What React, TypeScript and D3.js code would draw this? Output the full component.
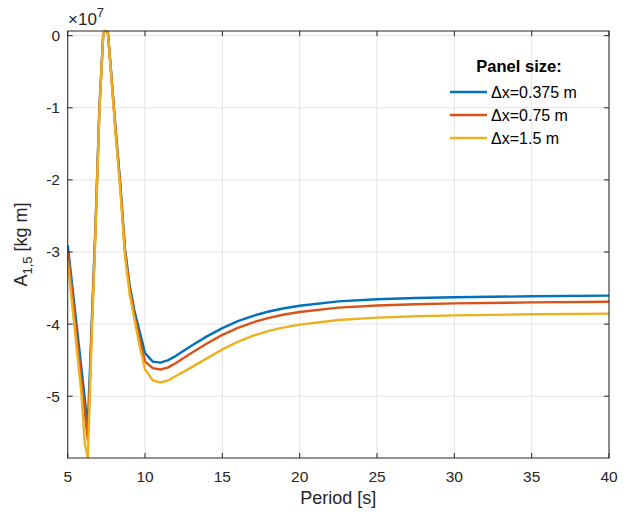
import React from "react";
import * as d3 from "d3";

const periods = [5.0, 5.3, 5.6, 5.9, 6.1, 6.3, 6.55, 6.8, 7.05, 7.3, 7.45, 7.6, 7.85, 8.1, 8.4, 8.7, 9.0, 9.3, 9.65, 10.0, 10.5, 11.0, 11.5, 12.0, 13.0, 14.0, 15.0, 16.0, 17.0, 18.0, 19.0, 20.0, 22.5, 25.0, 27.5, 30.0, 35.0, 40.0];

const seriesBlue = [-2.90, -3.48, -4.06, -4.64, -5.03, -5.42, -4.00, -2.62, -1.00, 0.03, 0.065, 0.04, -0.62, -1.30, -2.05, -2.95, -3.45, -3.80, -4.10, -4.40, -4.52, -4.535, -4.50, -4.44, -4.30, -4.17, -4.055, -3.96, -3.885, -3.825, -3.78, -3.745, -3.685, -3.655, -3.638, -3.628, -3.614, -3.605];
const seriesOrange = [-2.98, -3.58, -4.19, -4.80, -5.20, -5.61, -4.08, -2.66, -1.02, 0.03, 0.065, 0.04, -0.63, -1.32, -2.08, -2.98, -3.50, -3.86, -4.20, -4.52, -4.61, -4.63, -4.60, -4.54, -4.40, -4.27, -4.15, -4.053, -3.975, -3.913, -3.867, -3.832, -3.772, -3.741, -3.724, -3.713, -3.699, -3.69];
const seriesYellow = [-3.13, -3.75, -4.37, -4.99, -5.65, -5.857, -4.20, -2.72, -1.06, 0.02, 0.065, 0.03, -0.66, -1.38, -2.15, -3.05, -3.58, -3.92, -4.30, -4.63, -4.78, -4.81, -4.78, -4.72, -4.60, -4.475, -4.35, -4.245, -4.16, -4.095, -4.045, -4.007, -3.943, -3.91, -3.891, -3.879, -3.864, -3.855];

const seriesNames = ["\u0394x=0.375 m", "\u0394x=0.75 m", "\u0394x=1.5 m"];
const seriesColors = ["#0072BD", "#D95319", "#EDB120"];
const xTicks = [5, 10, 15, 20, 25, 30, 35, 40];
const yTicks = [0, -1, -2, -3, -4, -5];

export default function App() {
  const W = 630, H = 517;
  const left = 67.7, right = 609, top = 31, bottom = 458;
  const x = d3.scaleLinear().domain([5, 40]).range([left, right]);
  const y = d3.scaleLinear().domain([-5.857, 0.065]).range([bottom, top]);
  const line = d3.line<number>().x((_, i) => x(periods[i])).y((d) => y(d)).curve(d3.curveLinear);
  const all = [seriesBlue, seriesOrange, seriesYellow];
  const axisColor = "#262626";
  const font = "'Liberation Sans', Arial, Helvetica, sans-serif";
  const tl = 5;
  return (
    <svg width={W} height={H} style={{ position: "absolute", left: 0, top: 0, background: "#fff" }} fontFamily={font}>
      <rect x={0} y={0} width={W} height={H} fill="#fff" />
      <defs>
        <clipPath id="plotclip">
          <rect x={left} y={top - 2} width={right - left} height={bottom - top + 2} />
        </clipPath>
      </defs>
      {xTicks.map((t) => (
        <line key={"gx" + t} x1={x(t)} x2={x(t)} y1={top} y2={bottom} stroke="#e3e3e3" strokeWidth={1} />
      ))}
      {yTicks.map((t) => (
        <line key={"gy" + t} x1={left} x2={right} y1={y(t)} y2={y(t)} stroke="#e3e3e3" strokeWidth={1} />
      ))}
      <g clipPath="url(#plotclip)">
        {all.map((s, i) => (
          <path key={i} d={line(s) || ""} fill="none" stroke={seriesColors[i]} strokeWidth={2.4} strokeLinejoin="round" />
        ))}
      </g>
      <rect x={left} y={top} width={right - left} height={bottom - top} fill="none" stroke={axisColor} strokeWidth={1} />
      {xTicks.map((t) => (
        <g key={"tx" + t}>
          <line x1={x(t)} x2={x(t)} y1={bottom} y2={bottom - tl} stroke={axisColor} />
          <line x1={x(t)} x2={x(t)} y1={top} y2={top + tl} stroke={axisColor} />
          <text x={x(t)} y={482} textAnchor="middle" fontSize={15.5} fill={axisColor}>{t}</text>
        </g>
      ))}
      {yTicks.map((t) => (
        <g key={"ty" + t}>
          <line x1={left} x2={left + tl} y1={y(t)} y2={y(t)} stroke={axisColor} />
          <line x1={right} x2={right - tl} y1={y(t)} y2={y(t)} stroke={axisColor} />
          <text x={60} y={y(t) + 5.5} textAnchor="end" fontSize={15.5} fill={axisColor}>{t === 0 ? "0" : "-" + Math.abs(t)}</text>
        </g>
      ))}
      <text x={68} y={25} fontSize={17} fill={axisColor}>
        <tspan>{"\u00d7"}</tspan>
        <tspan>10</tspan>
        <tspan dy={-8} fontSize={13}>7</tspan>
      </text>
      <text x={(left + right) / 2} y={504} textAnchor="middle" fontSize={18} fill={axisColor}>Period [s]</text>
      <text transform={`translate(27, ${(top + bottom) / 2}) rotate(-90)`} textAnchor="middle" fontSize={18} fill={axisColor}>
        A<tspan dy={5} fontSize={13}>1,5</tspan><tspan dy={-5}> [kg m]</tspan>
      </text>
      <text x={519} y={72} textAnchor="middle" fontSize={16.5} fontWeight="bold" fill="#000">Panel size:</text>
      {seriesNames.map((n, i) => (
        <g key={"lg" + i}>
          <line x1={450} x2={487} y1={92 + i * 23} y2={92 + i * 23} stroke={seriesColors[i]} strokeWidth={2.4} />
          <text x={491} y={97.5 + i * 23} fontSize={16} fill="#000">{n}</text>
        </g>
      ))}
    </svg>
  );
}
